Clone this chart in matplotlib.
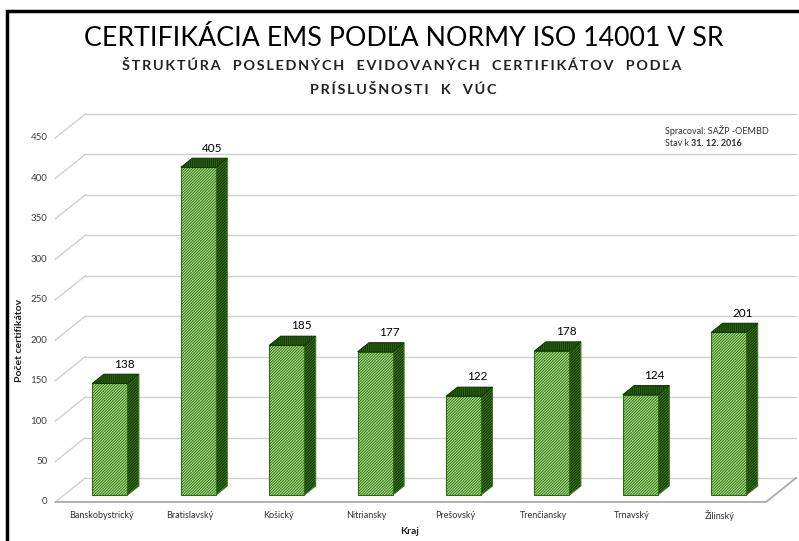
import numpy as np
import matplotlib
matplotlib.use("Agg")
import matplotlib.pyplot as plt
from matplotlib.patches import Rectangle

# data
kraje = ["Banskobystrický", "Bratislavský", "Košický", "Nitriansky",
         "Prešovský", "Trenčiansky", "Trnavský", "Žilinský"]
pocet = [138, 405, 185, 177, 122, 178, 124, 201]
y_ticks = list(range(0, 451, 50))

title = "CERTIFIKÁCIA EMS PODĽA NORMY ISO 14001 V SR"
subtitle1 = "ŠTRUKTÚRA  POSLEDNÝCH  EVIDOVANÝCH  CERTIFIKÁTOV  PODĽA"
subtitle2 = "PRÍSLUŠNOSTI  K  VÚC"

# fake 3d: depth offsets in data units
DX, DY = 0.339, 29.7          # full depth of the floor / back wall
D0, D1 = 0.29, 0.67           # bar sits between these depth fractions
HW = 0.198                    # half width of a bar
X_LEFT, X_RIGHT = -0.52, len(kraje) - 0.48

plt.rcParams['font.family'] = ['Lato', 'DejaVu Sans']

fig = plt.figure(figsize=(7.99, 5.41), dpi=100)
ax = fig.add_axes([0, 0, 1, 1])
ax.set_xlim(-101.3 / 88.4, (799 - 101.3) / 88.4)
ax.set_ylim(-(541 - 502) / 0.809, 502 / 0.809)
ax.axis('off')

def p(x, v, d):
    return x + d * DX, v + d * DY

grid_c = "#d0d0d0"
for t in y_ticks:
    # back wall line
    x0, y0 = p(X_LEFT, t, 1)
    x1, y1 = p(X_RIGHT, t, 1)
    ax.plot([x0, x1], [y0, y1], color=grid_c, lw=1, zorder=0)
    # side wall diagonal
    xa, ya = p(X_LEFT, t, 0)
    ax.plot([xa, x0], [ya, y0], color=grid_c, lw=1, zorder=0)
    ax.text(X_LEFT - 0.09, t, str(t), ha='right', va='center',
            fontsize=7, color='#404040')

# floor front and right edge
fx, fy = p(X_RIGHT, 0, 1)
ax.plot([X_LEFT, X_RIGHT, fx], [0, 0, fy], color="#b0b0b0", lw=1.4, zorder=0)

plt.rcParams['hatch.linewidth'] = 0.6
x = np.arange(len(kraje))
front_x = x + D0 * DX
ax.bar(front_x, pocet, width=2 * HW, bottom=D0 * DY, color="#a8dc88",
       edgecolor="#2f6b12", hatch="////////////", lw=0.8, zorder=2)

for i, v in enumerate(pocet):
    # right side face
    side = [p(i + HW, 0, D0), p(i + HW, v, D0), p(i + HW, v, D1), p(i + HW, 0, D1)]
    ax.fill(*zip(*side), facecolor="#143805", edgecolor="#3d7d1c",
            hatch="////////////", lw=0.8, zorder=1)
    # top face
    top = [p(i - HW, v, D0), p(i + HW, v, D0), p(i + HW, v, D1), p(i - HW, v, D1)]
    ax.fill(*zip(*top), facecolor="#2a5e12", edgecolor="#123a04",
            hatch="||||||||", lw=0.8, zorder=3)
    lx, ly = p(i, v, 0.76)
    ax.text(lx, ly + 10, str(v), ha='center', va='center', fontsize=8.5,
            color='black')
    ax.text(i, -17.3, kraje[i], ha='center', va='center', fontsize=6.5,
            color='#303030')

ax.text(3.49, -36, "Kraj", ha='center', va='center', fontsize=7.5,
        fontweight='bold', color='#202020')
fig.text(20 / 799, 1 - 340 / 541, "Počet certifikátov", rotation=90,
         ha='center', va='center', fontsize=7.5, fontweight='bold', color='#202020')

# note in the corner
t1 = fig.text(665 / 799, 1 - 131 / 541, "Spracoval: SAŽP -OEMBD", ha='left',
              va='center', fontsize=6.5, color='#303030')
t2 = fig.text(665 / 799, 1 - 144 / 541, "Stav k ", ha='left', va='center',
              fontsize=6.5, color='#303030')
ax.annotate("31. 12. 2016", xy=(1, 0.5), xycoords=t2, ha='left', va='center',
            fontsize=6.5, fontweight='bold', color='#303030')

# titles (subtitle has spaced-out letters)
def track(s):
    return "\u2009".join(s)

fig.text(404 / 799, 1 - 38 / 541, title, ha='center', va='center',
         fontsize=19.3, color='black')
fig.text(402 / 799, 1 - 65 / 541, track(subtitle1), ha='center', va='center',
         fontsize=10.4, fontweight='bold', color='#222222')
fig.text(403 / 799, 1 - 89 / 541, track(subtitle2), ha='center', va='center',
         fontsize=10.4, fontweight='bold', color='#222222')

# frame
fig.patches.append(Rectangle((7 / 799, -0.1), 1.2, 1 - 11 / 541 + 0.1,
                             transform=fig.transFigure, fill=False,
                             edgecolor='black', lw=2.5))

fig.savefig("out.png", dpi=100)
